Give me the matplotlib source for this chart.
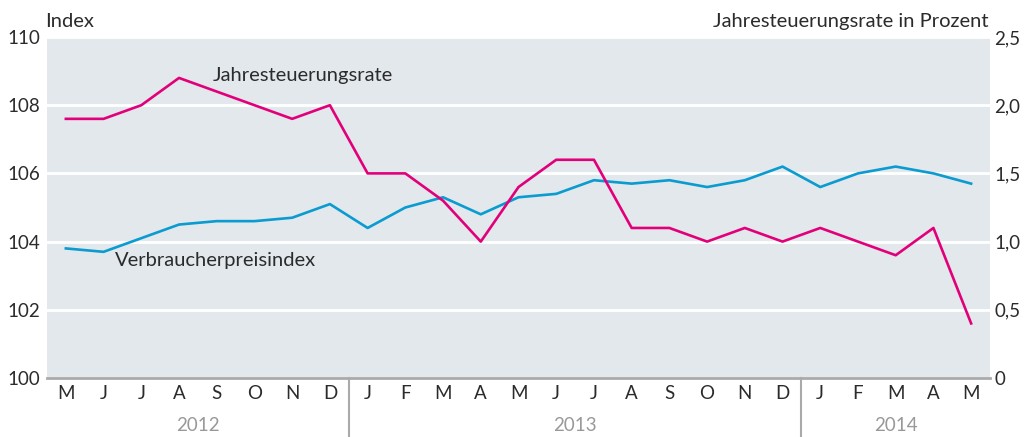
import matplotlib
matplotlib.use("Agg")
from matplotlib import pyplot as plt

plt.rcParams['font.family'] = ['Lato', 'DejaVu Sans']

months = ["M", "J", "J", "A", "S", "O", "N", "D",
          "J", "F", "M", "A", "M", "J", "J", "A", "S", "O", "N", "D",
          "J", "F", "M", "A", "M"]
years = ["2012", "2013", "2014"]
year_start = [0, 8, 20]

vpi = [103.8, 103.7, 104.1, 104.5, 104.6, 104.6, 104.7, 105.1,
       104.4, 105.0, 105.3, 104.8, 105.3, 105.4, 105.8, 105.7, 105.8, 105.6, 105.8, 106.2,
       105.6, 106.0, 106.2, 106.0, 105.7]
rate = [1.9, 1.9, 2.0, 2.2, 2.1, 2.0, 1.9, 2.0,
        1.5, 1.5, 1.3, 1.0, 1.4, 1.6, 1.6, 1.1, 1.1, 1.0, 1.1, 1.0,
        1.1, 1.0, 0.9, 1.1, 0.4]

BLUE = "#0a9bd0"
PINK = "#e2007a"
GREY = "#2b2b2b"
FS_TICK = 13.5
FS_LAB = 14.5

fig = plt.figure(figsize=(10.26, 4.37), dpi=100)
ax = fig.add_axes([47 / 1026, 59 / 437, 943 / 1026, 341 / 437])
ax.set_facecolor("#e3e8ec")
ax2 = ax.twinx()

x = list(range(len(months)))
ax.plot(x, vpi, color=BLUE, lw=1.9, zorder=3)
ax2.plot(x, rate, color=PINK, lw=1.9, zorder=3)

ax.set_xlim(-0.5, len(months) - 0.5)
ax.set_ylim(100, 110)
ax2.set_ylim(0, 2.5)
ax.set_yticks(range(100, 111, 2))
ax2.set_yticks([0, 0.5, 1.0, 1.5, 2.0, 2.5])
ax2.set_yticklabels(["0", "0,5", "1,0", "1,5", "2,0", "2,5"])
ax.grid(axis="y", color="white", lw=2)
ax.set_axisbelow(True)

ax.set_xticks(x)
ax.set_xticklabels(months)
for a in (ax, ax2):
    a.tick_params(length=0, labelsize=FS_TICK, labelcolor=GREY)
    for s in a.spines.values():
        s.set_visible(False)
ax.tick_params(axis="y", pad=5)
ax2.tick_params(axis="y", pad=3)
ax.tick_params(axis="x", pad=5)
ax.spines["bottom"].set_visible(True)
ax.spines["bottom"].set_color("#aaaaaa")
ax.spines["bottom"].set_linewidth(2)

# year separators and labels
for i, (yr, st) in enumerate(zip(years, year_start)):
    end = year_start[i + 1] if i + 1 < len(years) else len(months)
    ax.text((st + end - 1) / 2, -0.14, yr, transform=ax.get_xaxis_transform(),
            ha="center", va="center", fontsize=FS_TICK, color="#999999")
    if st > 0:
        ax.plot([st - 0.5, st - 0.5], [0, -0.18], transform=ax.get_xaxis_transform(),
                color="#aaaaaa", lw=1.5, clip_on=False)

ax.text(-0.002, 1.045, "Index", transform=ax.transAxes, ha="left", va="center",
        fontsize=FS_LAB, color=GREY)
ax.text(0.998, 1.045, "Jahresteuerungsrate in Prozent", transform=ax.transAxes,
        ha="right", va="center", fontsize=FS_LAB, color=GREY)

ax2.text(3.9, 2.22, "Jahresteuerungsrate", ha="left", va="center",
         fontsize=FS_LAB, color=GREY, zorder=4)
ax.text(1.3, 103.45, "Verbraucherpreisindex", ha="left", va="center",
        fontsize=FS_LAB, color=GREY, zorder=4)

fig.savefig("out.png", dpi=100)
